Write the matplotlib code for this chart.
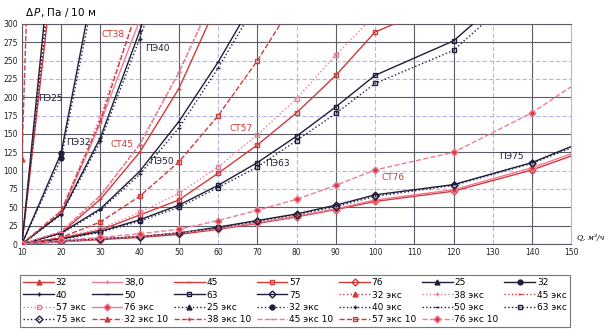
import matplotlib
matplotlib.use("Agg")
import matplotlib.pyplot as plt

plt.rcParams['font.family'] = ['DejaVu Sans']

# flow rate, m3/h
Q = [10, 20, 30, 40, 50, 60, 70, 80, 90, 100, 120, 140, 160]

# pressure loss, Pa per 10 m (values for Q[:len(series)])
st32 = [0, 470]
st38 = [0, 42, 165, 305, 450]
st45 = [0, 15, 61, 125, 212, 330]
st57 = [0, 8, 19, 39.5, 60, 96.5, 135, 179, 230, 289, 334]
st76 = [0, 3, 6, 9, 13, 20, 28, 37, 47, 58, 72, 101, 139]
pe25 = [0, 535]
pe32 = [0, 124, 403]
pe40 = [0, 41, 145, 290, 450]
pe50 = [0, 15, 48, 99, 167, 248, 340]
pe63 = [0, 7, 17, 33, 53, 80, 111, 147, 187, 230, 277, 370]
pe75 = [0, 4, 7, 10, 15, 23, 32, 41, 53, 67, 81, 111, 155]
st32_e = [0, 500]
st38_e = [0, 45, 175, 330]
st45_e = [0, 17, 66, 135, 234, 350]
st57_e = [0, 9, 21, 43, 69, 105, 149, 198, 258, 312]
st76_e = [0, 3, 7, 10, 15, 21, 29, 38, 48, 60, 74, 104, 142]
pe25_e = [0, 500]
pe32_e = [0, 117, 386]
pe40_e = [0, 40, 140, 280, 430]
pe50_e = [0, 14, 46, 95, 158, 240, 330]
pe63_e = [0, 6, 16, 31, 50, 77, 105, 141, 178, 219, 264, 360]
pe75_e = [0, 4, 7, 10, 15, 22, 31, 40, 51, 65, 80, 110, 152]
st32_e10 = [116, 1800]
st38_e10 = [0, 45, 168, 330]
st45_e10 = [0, 17, 66, 136, 234, 350]
st57_e10 = [0, 9, 30, 65, 112, 175, 250, 335]
st76_e10 = [0, 5, 9, 14, 20, 32, 46, 61, 80, 101, 125, 179, 250]

RED = '#d23a3a'
PINK = '#ee7c96'
DARK = '#1e1e3c'

# (label, data, colour, linestyle, marker, marker face)
series = [
    ('32', st32, RED, '-', '^', RED),
    ('38,0', st38, PINK, '-', '+', PINK),
    ('45', st45, RED, '-', '_', RED),
    ('57', st57, RED, '-', 's', 'none'),
    ('76', st76, RED, '-', 'D', 'none'),
    ('25', pe25, DARK, '-', '^', DARK),
    ('32', pe32, DARK, '-', 'o', DARK),
    ('40', pe40, DARK, '-', '+', DARK),
    ('50', pe50, DARK, '-', '_', DARK),
    ('63', pe63, DARK, '-', 's', 'none'),
    ('75', pe75, DARK, '-', 'D', 'none'),
    ('32 экс', st32_e, RED, ':', '^', RED),
    ('38 экс', st38_e, PINK, ':', '+', PINK),
    ('45 экс', st45_e, RED, ':', '_', RED),
    ('57 экс', st57_e, PINK, ':', 's', 'none'),
    ('76 экс', st76_e, PINK, '-', 'D', RED),
    ('25 экс', pe25_e, DARK, ':', '^', DARK),
    ('32 экс', pe32_e, DARK, ':', 'o', DARK),
    ('40 экс', pe40_e, DARK, ':', '+', DARK),
    ('50 экс', pe50_e, DARK, ':', '_', DARK),
    ('63 экс', pe63_e, DARK, ':', 's', 'none'),
    ('75 экс', pe75_e, DARK, ':', 'D', 'none'),
    ('32 экс 10', st32_e10, RED, '--', '^', RED),
    ('38 экс 10', st38_e10, RED, '--', '+', RED),
    ('45 экс 10', st45_e10, PINK, '--', '_', PINK),
    ('57 экс 10', st57_e10, RED, '--', 's', 'none'),
    ('76 экс 10', st76_e10, PINK, '--', 'D', RED),
]

pipe_labels = [
    ('ПЭ25', 14.1, 199, DARK), ('ПЭ32', 21.2, 138, DARK),
    ('СТ38', 30.4, 285, RED), ('ПЭ40', 41.4, 267, DARK),
    ('СТ45', 32.7, 136, RED), ('ПЭ50', 42.4, 112, DARK),
    ('СТ57', 63.0, 158, RED), ('ПЭ63', 72.0, 110, DARK),
    ('СТ76', 101.6, 90, RED), ('ПЭ75', 131.7, 119, DARK),
]

x_ticks = list(range(10, 151, 10))
y_ticks = list(range(0, 301, 25))
x_light = [60, 80, 100, 130, 150]
y_light = [75, 100, 175, 225, 250]

fig = plt.figure(figsize=(6.09, 3.30), dpi=100)
ax = fig.add_axes([0.036, 0.2606, 0.902, 0.6667])
ax.set_xlim(10, 150)
ax.set_ylim(0, 300)

for x in x_ticks:
    light = x in x_light
    ax.axvline(x, color='#b4b4ee' if light else '#5c5c66',
               lw=0.8, ls=(0, (4, 2)) if light else '-', zorder=1)
for y in y_ticks:
    light = y in y_light
    ax.axhline(y, color='#b4b4ee' if light else '#5c5c66',
               lw=0.8, ls=(0, (4, 2)) if light else '-', zorder=1)

handles = []
for label, vals, col, ls, mk, mfc in series:
    h, = ax.plot(Q[:len(vals)], vals, color=col, ls=ls, lw=1.0,
                 marker=mk, ms=3.5, mfc=mfc, mec=col, mew=1.0,
                 label=label, zorder=3, clip_on=True)
    handles.append(h)

for txt, qx, py, col in pipe_labels:
    ax.text(qx, py, txt, color=col, fontsize=6.5, va='center', ha='left', zorder=4)

ax.set_xticks(x_ticks)
ax.set_yticks(y_ticks)
ax.tick_params(length=0, labelsize=5.5, pad=3, colors='#222222')
for s in ax.spines.values():
    s.set_color('#5c5c66')
    s.set_linewidth(0.8)
ax.spines['right'].set_color('#b4b4ee')

fig.text(0.041, 0.962, r'$\Delta\, P$, Па / 10 м', fontsize=7.5, va='center', ha='left')
fig.text(0.947, 0.28, 'Q, м³/ч', fontsize=5.5, va='center', ha='left',
         family='DejaVu Serif', style='italic')

# legend filled row by row, 7 columns
ncol = 7
nrow = 4
order = [r * ncol + c for c in range(ncol) for r in range(nrow) if r * ncol + c < len(handles)]
leg = fig.legend([handles[i] for i in order], [handles[i].get_label() for i in order],
                 ncol=ncol, loc='lower left', bbox_to_anchor=(0.033, 0.009, 0.903, 0.197),
                 mode='expand', fontsize=6.5, handlelength=3.4, handletextpad=0.2,
                 columnspacing=0.8, labelspacing=0.35, borderpad=0.35,
                 frameon=True, fancybox=False, edgecolor='#555555', borderaxespad=0)
leg.get_frame().set_linewidth(0.8)

fig.savefig('out.png', dpi=100)
